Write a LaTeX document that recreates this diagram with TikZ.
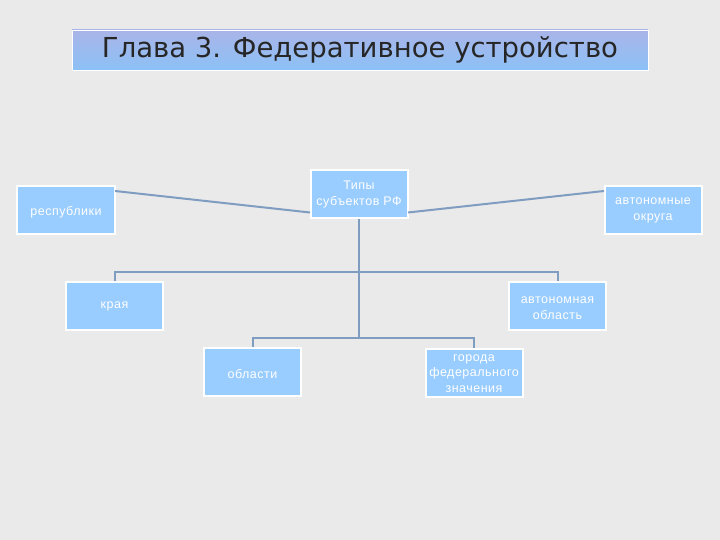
\documentclass[tikz,border=0pt]{standalone}
\usepackage{fontspec}
\setmainfont{Liberation Sans}
\newfontfamily\titlefont{DejaVu Sans}
\newfontfamily\boxfont[LetterSpace=4]{Liberation Sans}
\definecolor{bg}{HTML}{EAEAEA}
\definecolor{boxfill}{HTML}{99CCFF}
\definecolor{conn}{HTML}{7F9DC0}
\definecolor{titletop}{HTML}{A9B4E8}
\definecolor{titlebot}{HTML}{8CC1F6}
\begin{document}
\begin{tikzpicture}[x=1bp,y=-1bp,
  box/.style={draw=white,line width=2bp,fill=boxfill,rectangle,minimum width=97bp,minimum height=48bp,inner sep=0pt},
  txt/.style={text=white,font=\boxfont\fontsize{12.5bp}{15.5bp}\selectfont,align=center,inner sep=0pt},
  link/.style={draw=conn,line width=2bp}]
\fill[bg] (0,0) rectangle (720,540);
\useasboundingbox (0,0) rectangle (720,540);
% title
\shade[top color=titletop,bottom color=titlebot] (72,30) rectangle (648,70);
\draw[white,line width=0.6bp] (72,30) rectangle (648,70);
\node[font=\titlefont\fontsize{27.5bp}{32bp}\selectfont,text=black!85] (title) at (360,50) {Глава 3. Федеративное устройство};
% boxes
\node[box] (types) at (359,194.5) {};
\node[box] (resp) at (66,210) {};
\node[box] (okr) at (653,210.5) {};
\node[box] (kraya) at (114.5,306) {};
\node[box] (aobl) at (557.5,306) {};
\node[box] (obl) at (252.5,372) {};
\node[box] (gor) at (474,372.5) {};
% texts
\node[txt,anchor=north] (types-t) at (359,181) {Типы\\субъектов РФ};
\node[txt] (resp-t) at (66,212) {республики};
\node[txt,anchor=north] (okr-t) at (653,198) {автономные\\округа};
\node[txt] (kraya-t) at (114.5,306) {края};
\node[txt] (aobl-t) at (557.5,308) {автономная\\область};
\node[txt] (obl-t) at (252.5,374) {области};
\node[txt] (gor-t) at (474,373.5) {города\\федерального\\значения};
% connectors
\coordinate (tl) at (310,212.5);
\coordinate (tr) at (408,212.5);
\coordinate (rl) at (115,191);
\coordinate (ol) at (604,191);
\draw[link] (rl) -- (tl);
\draw[link] (tr) -- (ol);
\coordinate (j1) at (359,272);
\coordinate (j2) at (359,338);
\draw[link] (types.south) -- (j2);
\draw[link] (kraya.north) -- (kraya.north |- j1) -- (aobl.north |- j1) -- (aobl.north);
\draw[link] (obl.north) -- (obl.north |- j2) -- (gor.north |- j2) -- (gor.north);
\end{tikzpicture}
\end{document}
